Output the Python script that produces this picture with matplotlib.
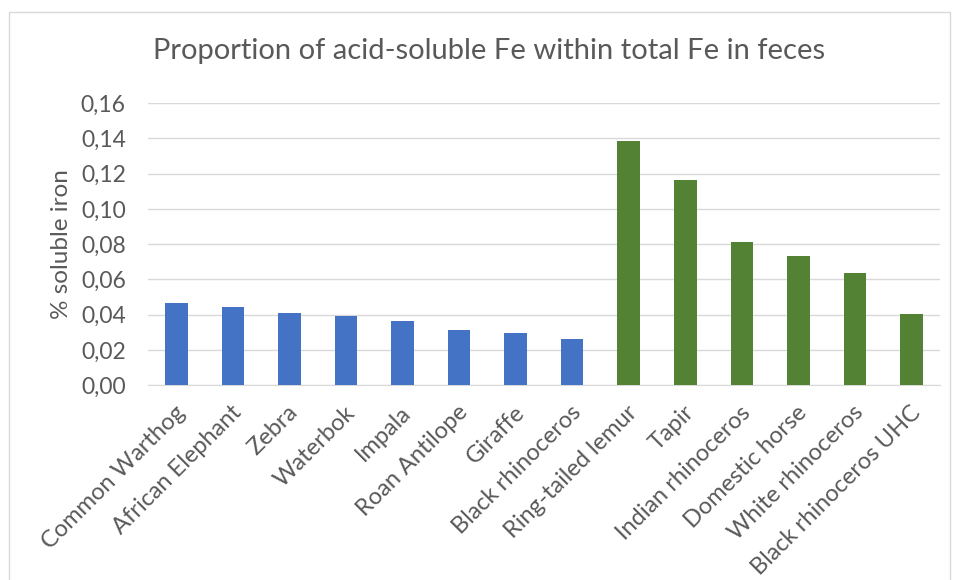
import matplotlib
matplotlib.use("Agg")
import matplotlib.pyplot as plt
from matplotlib.patches import Rectangle

plt.rcParams['font.family'] = ['Lato', 'DejaVu Sans']

animals = ["Common Warthog", "African Elephant", "Zebra", "Waterbok", "Impala",
           "Roan Antilope", "Giraffe", "Black rhinoceros", "Ring-tailed lemur",
           "Tapir", "Indian rhinoceros", "Domestic horse", "White rhinoceros",
           "Black rhinoceros UHC"]
soluble = [0.0465, 0.0442, 0.0408, 0.0391, 0.0363, 0.0312, 0.0295, 0.0261,
           0.1384, 0.1163, 0.0811, 0.0732, 0.0635, 0.0403]
group = ["ruminant"] * 8 + ["hindgut"] * 6
colors = {"ruminant": "#4472C4", "hindgut": "#548235"}
yticks = [0, 0.02, 0.04, 0.06, 0.08, 0.10, 0.12, 0.14, 0.16]

fig = plt.figure(figsize=(9.58, 5.8), dpi=100)
ax = fig.add_axes([0.1545, 0.336, 0.8265, 0.486])

x = list(range(len(animals)))
ax.bar(x, soluble, width=0.4, color=[colors[g] for g in group], zorder=3)

ax.set_xlim(-0.5, len(animals) - 0.5)
ax.set_ylim(0, 0.16)
ax.set_yticks(yticks)
ax.set_yticklabels([("%.2f" % v).replace(".", ",") for v in yticks])
ax.set_xticks(x)
ax.set_xticklabels([])

# slanted category labels under each bar
for i, name in zip(x, animals):
    ax.annotate(name, xy=(i, 0), xycoords=("data", "axes fraction"),
                xytext=(-1.5, -12), textcoords="offset points",
                rotation=45, ha="right", va="top", rotation_mode="anchor",
                fontsize=17, color="#595959")

ax.grid(axis="y", color="#d9d9d9", linewidth=1, zorder=0)
for s in ["top", "right", "left"]:
    ax.spines[s].set_visible(False)
ax.spines["bottom"].set_color("#d9d9d9")
ax.tick_params(axis="both", length=0, colors="#595959")
ax.tick_params(axis="y", pad=16, labelsize=16.5)

ax.set_ylabel("% soluble iron", fontsize=17.5, color="#595959", labelpad=6)
fig.text(0.51, 0.912, "Proportion of acid-soluble Fe within total Fe in feces",
         ha="center", va="center", fontsize=21, color="#595959")

# outer chart border
fig.patches.append(Rectangle((0.0095, -0.01), 0.982, 0.99, transform=fig.transFigure,
                             fill=False, edgecolor="#d9d9d9", linewidth=1))

fig.savefig("out.png", dpi=100)
